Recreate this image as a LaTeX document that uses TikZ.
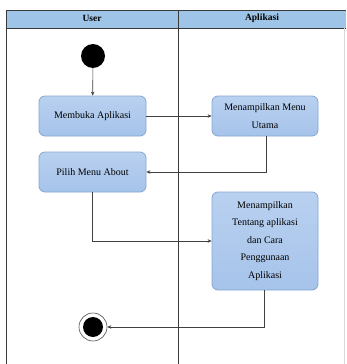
\documentclass[tikz,border=0pt]{standalone}
\usepackage{fontspec}
\setmainfont{Liberation Serif}
\usetikzlibrary{arrows.meta}
\definecolor{boxfill}{HTML}{A6C3EA}
\definecolor{boxtop}{HTML}{B9D1F0}
\definecolor{boxdraw}{HTML}{86A7D2}
\definecolor{headfill}{HTML}{9EC5E8}
\definecolor{lanegray}{HTML}{3A3A3A}
\tikzset{
  act/.style={draw=boxdraw, line width=0.8pt, rounded corners=6pt, top color=boxtop, bottom color=boxfill,
    align=center, font=\fontsize{10}{17.5}\selectfont, inner sep=0pt},
  flow/.style={draw=black!75, line width=0.6pt, -{Stealth[length=4pt,width=3.5pt]}},
  lane/.style={draw=lanegray, line width=0.8pt},
}
\begin{document}
\begin{tikzpicture}[x=1pt,y=-1pt]
\useasboundingbox (0,0) rectangle (347,364);
\fill[white] (0,0) rectangle (347,364);
% header
\fill[headfill] (6,10) rectangle (346,28);
\draw[lane] (6,10) -- (346,10);
\draw[lane] (6,28) -- (346,28);
\draw[lane] (6,10) -- (6,364);
\draw[lane] (178,10) -- (178,364);
\draw[black!15, line width=0.6pt] (344,28) -- (344,364);
\node[font=\fontsize{9.5}{10}\selectfont\bfseries] (hu) at (92,18.5) {User};
\node[font=\fontsize{9.5}{10}\selectfont\bfseries] (ha) at (262,18.5) {Aplikasi};
% nodes
\node[circle, fill=black, minimum size=24pt, inner sep=0pt] (start) at (93,56) {};
\node[act, minimum width=107pt, minimum height=40pt] (buka) at (92.5,116) {Membuka Aplikasi};
\node[act, minimum width=106pt, minimum height=40pt] (menu) at (265,116) {Menampilkan Menu\\Utama};
\node[act, minimum width=107pt, minimum height=40pt] (pilih) at (92.5,172) {Pilih Menu About};
\node[act, minimum width=106pt, minimum height=98pt] (tentang) at (265,241) {Menampilkan\\Tentang aplikasi\\dan Cara\\Penggunaan\\Aplikasi};
\node[circle, draw=black!70, line width=0.6pt, minimum size=28pt, inner sep=0pt] (end) at (93,327) {};
\fill[black] (end.center) circle (10pt);
% connectors
\draw[flow] (start) -- (buka);
\draw[flow] (buka) -- (menu);
\draw[flow] (menu.south -| 266,0) |- (pilih.east);
\draw[flow] (pilih.south) |- (tentang.west);
\draw[flow] (tentang.south -| 264,0) |- (end.east);
\end{tikzpicture}
\end{document}
